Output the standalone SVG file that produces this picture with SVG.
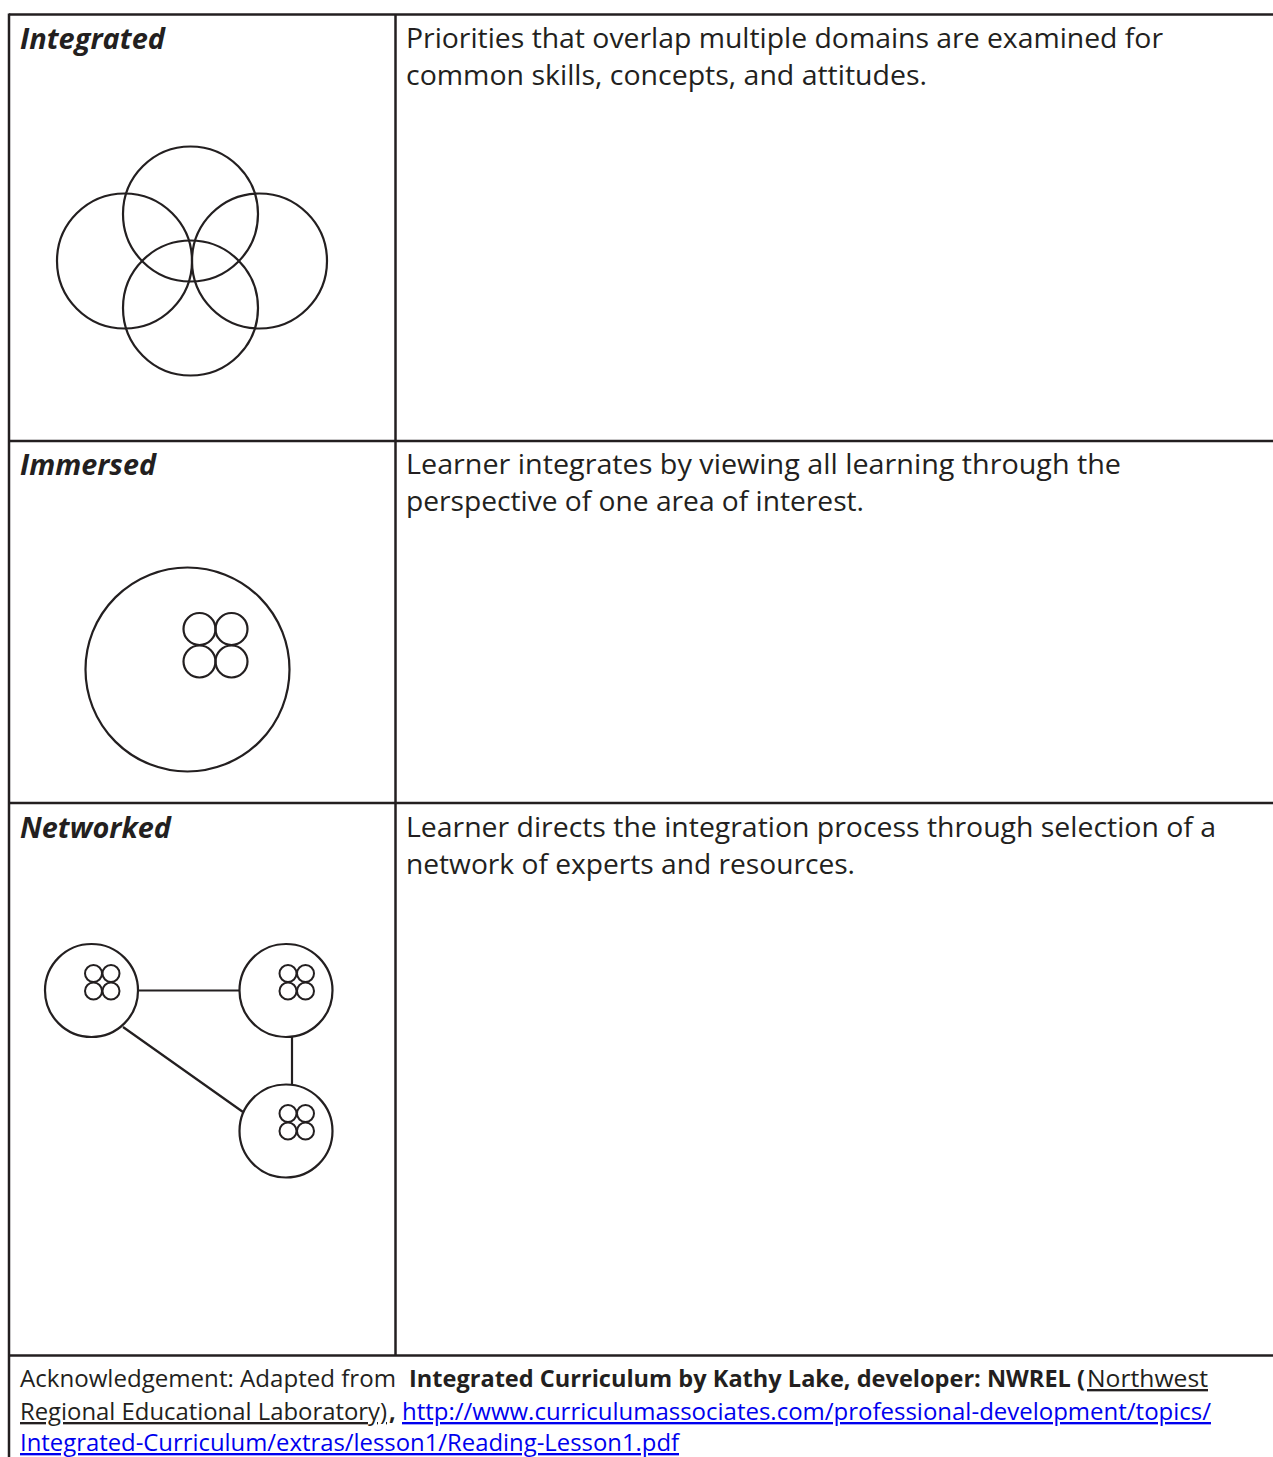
<svg xmlns="http://www.w3.org/2000/svg" width="1273" height="1457" viewBox="0 0 1273 1457">
<style>
.grid{stroke:#231f20;stroke-width:2.5;fill:none}
.c{stroke:#231f20;stroke-width:2.2;fill:none}
.cs{stroke:#231f20;stroke-width:2;fill:none}
.ln{stroke:#231f20;stroke-width:2.2;fill:none}
.h{font-family:"Open Sans","Noto Sans",sans-serif;font-weight:700;font-style:italic;font-size:29px;fill:#231f20}
.d{font-family:"Open Sans","Noto Sans",sans-serif;font-size:28px;fill:#231f20}
.a{font-family:"Open Sans","Noto Sans",sans-serif;font-size:23.5px;fill:#231f20}
.b{font-weight:700}
.u{text-decoration:underline;text-decoration-skip-ink:none}
.lk{fill:#0000ee;text-decoration:underline;text-decoration-skip-ink:none}
</style>
<rect width="1273" height="1457" fill="#fff"/>
<g id="table">
<line class="grid" x1="9" y1="14.5" x2="1273" y2="14.5"/>
<line class="grid" x1="9" y1="13.5" x2="9" y2="1457"/>
<line class="grid" x1="395.5" y1="14" x2="395.5" y2="1356"/>
<line class="grid" x1="9" y1="441" x2="1273" y2="441"/>
<line class="grid" x1="9" y1="803" x2="1273" y2="803"/>
<line class="grid" x1="9" y1="1355.5" x2="1273" y2="1355.5"/>
</g>
<g id="row-integrated">
<text class="h" x="20" y="49" textLength="145" lengthAdjust="spacingAndGlyphs">Integrated</text>
<text class="d" x="406" y="48" textLength="757" lengthAdjust="spacingAndGlyphs">Priorities that overlap multiple domains are examined for</text>
<text class="d" x="406" y="85" textLength="521" lengthAdjust="spacingAndGlyphs">common skills, concepts, and attitudes.</text>
<g id="integrated-diagram">
<circle class="c" cx="190.5" cy="214" r="67.5"/>
<circle class="c" cx="124.5" cy="261" r="67.5"/>
<circle class="c" cx="259.5" cy="261" r="67.5"/>
<circle class="c" cx="190.5" cy="308" r="67.5"/>
</g>
</g>
<g id="row-immersed">
<text class="h" x="20" y="475" textLength="136" lengthAdjust="spacingAndGlyphs">Immersed</text>
<text class="d" x="406" y="474" textLength="715" lengthAdjust="spacingAndGlyphs">Learner integrates by viewing all learning through the</text>
<text class="d" x="406" y="511" textLength="458" lengthAdjust="spacingAndGlyphs">perspective of one area of interest.</text>
<g id="immersed-diagram">
<circle class="c" cx="187.5" cy="669.5" r="102"/>
<circle class="c" cx="199.5" cy="629" r="16"/>
<circle class="c" cx="231.5" cy="629" r="16"/>
<circle class="c" cx="199.5" cy="661.5" r="16"/>
<circle class="c" cx="231.5" cy="661.5" r="16"/>
</g>
</g>
<g id="row-networked">
<text class="h" x="20" y="838" textLength="151" lengthAdjust="spacingAndGlyphs">Networked</text>
<text class="d" x="406" y="837" textLength="810" lengthAdjust="spacingAndGlyphs">Learner directs the integration process through selection of a</text>
<text class="d" x="406" y="874" textLength="449" lengthAdjust="spacingAndGlyphs">network of experts and resources.</text>
<g id="connectors">
<line class="ln" x1="138" y1="990.5" x2="239" y2="990.5"/>
<line class="ln" x1="292" y1="1037" x2="292" y2="1084"/>
<line class="ln" x1="123" y1="1027" x2="243" y2="1112"/>
</g>
<g id="net-node-1">
<circle class="c" cx="91.5" cy="990.5" r="46.5"/>
<circle class="cs" cx="93.5" cy="973.5" r="8.5"/>
<circle class="cs" cx="111" cy="973.5" r="8.5"/>
<circle class="cs" cx="93.5" cy="991" r="8.5"/>
<circle class="cs" cx="111" cy="991" r="8.5"/>
</g>
<g id="net-node-2">
<circle class="c" cx="286" cy="990.5" r="46.5"/>
<circle class="cs" cx="288" cy="973.5" r="8.5"/>
<circle class="cs" cx="305.5" cy="973.5" r="8.5"/>
<circle class="cs" cx="288" cy="991" r="8.5"/>
<circle class="cs" cx="305.5" cy="991" r="8.5"/>
</g>
<g id="net-node-3">
<circle class="c" cx="286" cy="1131" r="46.5"/>
<circle class="cs" cx="288" cy="1113.5" r="8.5"/>
<circle class="cs" cx="305.5" cy="1113.5" r="8.5"/>
<circle class="cs" cx="288" cy="1131" r="8.5"/>
<circle class="cs" cx="305.5" cy="1131" r="8.5"/>
</g>
</g>
<g id="acknowledgement">
<text class="a" x="20" y="1387" textLength="376" lengthAdjust="spacingAndGlyphs">Acknowledgement: Adapted from </text>
<text class="a b" x="409" y="1387" textLength="676" lengthAdjust="spacingAndGlyphs">Integrated Curriculum by Kathy Lake, developer: NWREL (</text>
<text class="a u" x="1087" y="1387" textLength="121" lengthAdjust="spacingAndGlyphs">Northwest </text>
<text class="a u" x="20" y="1420" textLength="367" lengthAdjust="spacingAndGlyphs">Regional Educational Laboratory)</text>
<text class="a b" x="389" y="1420">,</text>
<text class="a lk" x="402" y="1420" textLength="809" lengthAdjust="spacingAndGlyphs">http://www.curriculumassociates.com/professional-development/topics/</text>
<text class="a lk" x="20" y="1451" textLength="659" lengthAdjust="spacingAndGlyphs">Integrated-Curriculum/extras/lesson1/Reading-Lesson1.pdf</text>
</g>
</svg>
